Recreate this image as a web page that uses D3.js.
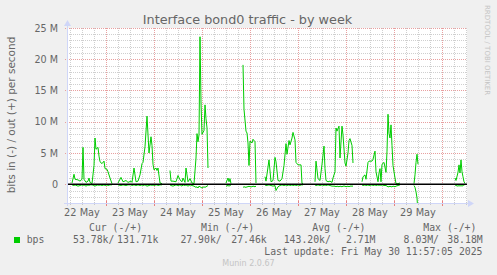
<!DOCTYPE html>
<html>
<head>
<meta charset="utf-8">
<script src="https://cdn.jsdelivr.net/npm/d3@7"></script>
<style>
  body { margin: 0; background: #f0f0f0; }
  svg { display: block; }
</style>
</head>
<body>
<div id="chart"></div>
<script>
// hours counted from 22 May 2025 00:00, values in Mbit/s (null = no data)
var hours = [
  7, 8, 8.5, 10, 11, 12, 12.5, 13, 14, 15, 15.5, 16, 17, 18, 18.5, 19, 20, 20.5, 21, 22, 23, 23.5, 24.5, 25, 26, 27, 28.5,
  30, 31.5, 32.5, 34, 35, 36.5, 37, 38, 39, 40, 41, 42, 42.5, 43.5, 44.5, 45.5, 46.5, 47, 47.5, 48, 49, 49.5, 50, 51, 52, 53,
  56, 56.5, 57.5, 59, 60, 61, 62, 62.5, 63.5, 64, 65, 66, 67, 68, 69, 69.5, 70, 70.5, 71, 71.5, 72, 73, 73.5, 74, 74.5, 75, 76,
  84, 85, 85.5, 86, 86.5, 87,
  92.5, 93, 94, 94.5, 95, 95.5, 96, 97, 97.5, 98.5, 99, 100,
  103.5, 104, 105.5, 106.5, 107.5, 108.5, 109, 110, 111, 112, 113, 114, 114.5, 115.5, 116, 117, 117.5, 118.5, 119, 120, 121, 121.5, 122, 122.5, 123.5,
  128.5, 129, 130, 131, 132, 133, 133.5, 134, 135, 136, 137, 137.5, 138.5, 139, 139.5, 140.5, 141, 142, 142.5, 143.5, 144, 145, 145.5, 146, 147, 147.5, 148.5,
  152, 152.5, 153.5, 154, 155, 155.5, 157, 157.5, 158.5, 159, 160, 160.5, 161, 161.5, 162, 163, 164, 164.5, 165, 165.5, 166, 166.5, 167, 167.5, 168.5, 169, 170, 171, 172,
  178, 178.5, 179, 179.5, 180, 181,
  198.5, 199, 200, 200.5, 201, 201.5, 202, 202.5, 203, 203.5
];
var outM = [
  0.2, 1.6, 0.8, 0.7, 0.5, 0.8, 5.9, 0.8, 0.3, 0.5, 1.0, 0.3, 0.1, 3.0, 7.4, 5.6, 5.9, 4.5, 3.6, 3.3, 3.7, 2.5, 2.4, 2.0, 1.0, 0.1, null,
  0.2, 1.1, 0.4, 0.6, 0.3, 0.5, 0.3, 2.6, 0.4, 0.5, 1.5, 3.3, 3.5, 6.0, 10.9, 5.0, 7.6, 6.2, 3.2, 2.3, 2.6, 2.2, 2.6, 0.2, 0.1, null,
  2.2, 0.5, 0.5, 0.4, 1.4, 0.7, 0.4, 1.0, 0.3, 2.6, 0.4, 0.9, 0.2, 0.1, 4.2, 8.1, 6.8, 7.9, 23.6, 13.0, 8.0, 8.6, 12.7, 10.5, 9.0, 2.6, null,
  0.2, 1.0, 0.4, 0.9, 0.1, null,
  19.1, 12.0, 8.5, 8.2, 6.6, 3.0, 6.9, 6.6, 7.2, 6.8, 0.2, null,
  1.2, 0.5, 3.9, 0.4, 0.6, 4.3, 3.6, 0.6, 0.5, 0.9, 3.0, 6.5, 4.8, 7.0, 6.3, 7.4, 8.3, 7.1, 3.5, 3.1, 3.1, 3.1, 0.1, 0.1, null,
  0.4, 3.7, 0.9, 0.6, 3.2, 6.1, 2.5, 0.6, 0.4, 0.5, 0.3, 1.0, 2.0, 9.0, 8.5, 9.3, 4.2, 9.3, 7.9, 3.4, 2.9, 5.0, 7.0, 7.3, 6.2, 3.4, null,
  0.4, 1.2, 1.5, 0.8, 3.5, 3.7, 3.7, 4.0, 5.3, 2.0, 0.4, 1.8, 2.5, 0.4, 3.2, 3.5, 1.9, 5.3, 11.2, 8.1, 7.4, 9.5, 6.2, 3.0, 1.0, 0.1, 0.1, 0.2, null,
  0.1, 1.5, 3.5, 4.8, 3.2, null,
  1.0, 0.6, 1.9, 3.1, 1.8, 3.9, 2.0, 1.2, 0.4, 0.13
];
var inM = [
  0.1, 0.2, 0.1, 0.3, 0.2, 0.1, 0.2, 0.1, 0.3, 0.1, 0.2, 0.1, 0.1, 0.2, 0.3, 0.2, 0.1, 0.2, 0.1, 0.2, 0.1, 0.2, 0.1, 0.2, 0.1, 0.1, null,
  0.1, 0.2, 0.1, 0.2, 0.1, 0.1, 0.2, 0.1, 0.2, 0.1, 0.2, 0.1, 0.2, 0.1, 0.3, 0.2, 0.1, 0.2, 0.1, 0.2, 0.1, 0.1, 0.2, 0.1, 0.1, null,
  0.1, 0.2, 0.3, 0.1, 0.2, 0.1, 0.3, 0.1, 0.2, 0.1, 0.3, 0.1, 0.2, 0.3, 0.5, 0.4, 0.6, 0.3, 0.4, 0.5, 0.6, 0.4, 0.5, 0.4, 0.3, 0.2, null,
  0.3, 0.2, 0.3, 0.2, 0.1, null,
  0.5, 0.4, 0.5, 0.4, 0.4, 0.3, 0.4, 0.4, 0.3, 0.4, 0.3, null,
  0.1, 0.2, 0.1, 0.2, 0.3, 0.2, 1.0, 0.4, 0.2, 0.1, 0.2, 0.1, 0.2, 0.1, 0.2, 0.1, 0.2, 0.1, 0.2, 0.1, 0.2, 0.1, 0.1, 0.1, null,
  0.1, 0.2, 0.1, 0.2, 0.1, 0.2, 0.1, 0.2, 0.1, 0.2, 0.3, 0.3, 0.3, 0.4, 0.3, 0.4, 0.3, 0.4, 0.3, 0.3, 0.4, 0.3, 0.4, 0.3, 0.3, 0.3, null,
  0.1, 0.2, 0.1, 0.2, 0.1, 0.2, 0.1, 0.2, 0.1, 0.2, 0.1, 0.2, 0.1, 0.2, 0.1, 0.2, 0.2, 0.3, 0.4, 0.4, 0.3, 0.4, 0.4, 0.3, 0.4, 0.3, 0.2, 0.1, null,
  0.2, 0.5, 1.2, 2.2, 4.5, null,
  0.1, 0.2, 0.3, 0.2, 0.3, 0.2, 0.3, 0.2, 0.1, 0.05
];
var dayLabels = ["22 May", "23 May", "24 May", "25 May", "26 May", "27 May", "28 May", "29 May"];
var yTicks = [0, 5, 10, 15, 20, 25];
var legendHeads = ["Cur (-/+)", "Min (-/+)", "Avg (-/+)", "Max (-/+)"];
var legendIn = ["53.78k/", "27.90k/", "143.20k/", "8.03M/"];
var legendOut = ["131.71k", "27.46k", "2.71M", "38.18M"];

var width = 497, height = 275;
var plotL = 67, plotT = 28, plotW = 400, plotH = 175;
var green = "#00cc00", axisCol = "#cfd6f8", fontCol = "#666666";
var sans = "DejaVu Sans", mono = "DejaVu Sans Mono";

var base = new Date(2025, 4, 22);
function at(h) { return new Date(base.getTime() + h * 3600000); }

var x = d3.scaleTime().domain([at(4.5), at(204.5)]).range([plotL, plotL + plotW]);
var y = d3.scaleLinear().domain([-3, 25]).range([plotT + plotH, plotT]);
function cx(v) { return Math.round(v) + 0.5; }

var svg = d3.select("#chart").append("svg")
    .attr("width", width).attr("height", height);

svg.append("rect").attr("width", width).attr("height", height).attr("fill", "#f0f0f0");
svg.append("rect")
    .attr("x", plotL).attr("y", plotT).attr("width", plotW).attr("height", plotH)
    .attr("fill", "#ffffff");

// grid
var gx = svg.append("g").attr("fill", "none").attr("stroke-width", 1).attr("stroke-dasharray", "1,1");
var days = d3.timeDay.range(x.domain()[0], x.domain()[1]);
var sixH = d3.timeHour.every(6).range(x.domain()[0], x.domain()[1])
    .filter(function(d) { return d.getHours() != 0; });
var minorY = d3.range(-2, 25).filter(function(v) { return v % 5 != 0; });

gx.selectAll(".vmin").data(sixH).enter().append("line")
    .attr("stroke", "#cfcfcf")
    .attr("x1", function(d) { return cx(x(d)); }).attr("x2", function(d) { return cx(x(d)); })
    .attr("y1", plotT).attr("y2", plotT + plotH);
gx.selectAll(".hmin").data(minorY).enter().append("line")
    .attr("stroke", "#cfcfcf")
    .attr("x1", plotL).attr("x2", plotL + plotW)
    .attr("y1", function(d) { return cx(y(d)); }).attr("y2", function(d) { return cx(y(d)); });
gx.selectAll(".vmaj").data(days).enter().append("line")
    .attr("stroke", "#e8a0a0")
    .attr("x1", function(d) { return cx(x(d)); }).attr("x2", function(d) { return cx(x(d)); })
    .attr("y1", plotT).attr("y2", plotT + plotH);
gx.selectAll(".hmaj").data(yTicks).enter().append("line")
    .attr("stroke", "#e8a0a0")
    .attr("x1", plotL - 2).attr("x2", plotL + plotW)
    .attr("y1", function(d) { return cx(y(d)); }).attr("y2", function(d) { return cx(y(d)); });

// little ticks under the time axis
svg.selectAll(".tmin").data(sixH).enter().append("line")
    .attr("stroke", "#c8c8c8")
    .attr("x1", function(d) { return cx(x(d)); }).attr("x2", function(d) { return cx(x(d)); })
    .attr("y1", plotT + plotH - 1).attr("y2", plotT + plotH + 2);
svg.selectAll(".tmaj").data(days).enter().append("line")
    .attr("stroke", "#e88080")
    .attr("x1", function(d) { return cx(x(d)); }).attr("x2", function(d) { return cx(x(d)); })
    .attr("y1", plotT + plotH - 2).attr("y2", plotT + plotH + 3);

// data
svg.append("clipPath").attr("id", "plotclip").append("rect")
    .attr("x", plotL).attr("y", plotT).attr("width", plotW).attr("height", plotH);

var pts = hours.map(function(h, i) { return {t: at(h), out: outM[i], inn: inM[i]}; });
var outLine = d3.line()
    .defined(function(d) { return d.out != null; })
    .x(function(d) { return x(d.t); })
    .y(function(d) { return y(d.out); });
var inLine = d3.line()
    .defined(function(d) { return d.inn != null; })
    .x(function(d) { return x(d.t); })
    .y(function(d) { return y(-d.inn); });

var plot = svg.append("g").attr("clip-path", "url(#plotclip)");
plot.append("path").datum(pts)
    .attr("fill", "none").attr("stroke", green).attr("stroke-width", 1)
    .attr("d", inLine);
plot.append("path").datum(pts)
    .attr("fill", "none").attr("stroke", green).attr("stroke-width", 1)
    .attr("d", outLine);

// zero rule
svg.append("line")
    .attr("x1", plotL).attr("x2", plotL + plotW)
    .attr("y1", y(0)).attr("y2", y(0))
    .attr("stroke", "#000000").attr("stroke-width", 1.3);

// axes with arrows
var ax = svg.append("g").attr("stroke", axisCol).attr("fill", axisCol);
ax.append("line")
    .attr("x1", plotL - 3).attr("x2", plotL + plotW + 4)
    .attr("y1", cx(plotT + plotH)).attr("y2", cx(plotT + plotH));
ax.append("line")
    .attr("x1", cx(plotL)).attr("x2", cx(plotL))
    .attr("y1", plotT + plotH + 3).attr("y2", plotT - 4);
ax.append("path").attr("stroke", "none")
    .attr("d", "M" + (plotL + plotW + 1) + "," + (plotT + plotH - 3) +
               "L" + (plotL + plotW + 7) + "," + (plotT + plotH + 0.5) +
               "L" + (plotL + plotW + 1) + "," + (plotT + plotH + 4) + "Z");
ax.append("path").attr("stroke", "none")
    .attr("d", "M" + (plotL - 3) + "," + (plotT - 2) +
               "L" + (plotL + 0.5) + "," + (plotT - 8) +
               "L" + (plotL + 4) + "," + (plotT - 2) + "Z");

// y labels
svg.selectAll(".ylab").data(yTicks).enter().append("text")
    .attr("x", plotL - 9).attr("y", function(d) { return y(d) + 3.5; })
    .attr("text-anchor", "end")
    .attr("font-family", sans).attr("font-size", 9.6).attr("fill", fontCol)
    .text(function(d) { return d == 0 ? "0" : d + " M"; });

// x labels at noon of each day
svg.selectAll(".xlab").data(dayLabels).enter().append("text")
    .attr("x", function(d, i) { return x(at(i * 24 + 12)); })
    .attr("y", 215.7)
    .attr("text-anchor", "middle")
    .attr("font-family", sans).attr("font-size", 9.8).attr("fill", fontCol)
    .text(function(d) { return d; });

// title and side texts
svg.append("text")
    .attr("x", 247.5).attr("y", 24)
    .attr("text-anchor", "middle")
    .attr("font-family", sans).attr("font-size", 12.8).attr("fill", fontCol)
    .text("Interface bond0 traffic - by week");
svg.append("text")
    .attr("transform", "translate(15,115) rotate(-90)")
    .attr("text-anchor", "middle")
    .attr("font-family", sans).attr("font-size", 10.5).attr("fill", fontCol)
    .text("bits in (-) / out (+) per second");
svg.append("text")
    .attr("transform", "translate(485,5) rotate(90)")
    .attr("font-family", sans).attr("font-size", 7).attr("fill", "#c4c4c4")
    .text("RRDTOOL / TOBI OETIKER");

// legend
var headX = [89, 201, 312.3, 423.3];
var inEnd = [114.4, 221.7, 330.9, 439];
var outEnd = [158.4, 266.7, 375.5, 482.7];
var lg = svg.append("g").attr("font-family", mono).attr("font-size", 9.8).attr("fill", fontCol);

lg.selectAll(".head").data(legendHeads).enter().append("text")
    .attr("x", function(d, i) { return headX[i]; }).attr("y", 230.5)
    .text(function(d) { return d; });
svg.append("rect").attr("x", 14).attr("y", 237).attr("width", 6).attr("height", 6).attr("fill", green);
lg.append("text").attr("x", 26.7).attr("y", 243).text("bps");
lg.selectAll(".vin").data(legendIn).enter().append("text")
    .attr("x", function(d, i) { return inEnd[i]; }).attr("y", 243)
    .attr("text-anchor", "end")
    .text(function(d) { return d; });
lg.selectAll(".vout").data(legendOut).enter().append("text")
    .attr("x", function(d, i) { return outEnd[i]; }).attr("y", 243)
    .attr("text-anchor", "end")
    .text(function(d) { return d; });
lg.append("text").attr("x", 482.5).attr("y", 254.5)
    .attr("text-anchor", "end")
    .text("Last update: Fri May 30 11:57:05 2025");

svg.append("text")
    .attr("x", 248.5).attr("y", 266)
    .attr("text-anchor", "middle")
    .attr("font-family", sans).attr("font-size", 8).attr("fill", "#c4c4c4")
    .text("Munin 2.0.67");
</script>
</body>
</html>
